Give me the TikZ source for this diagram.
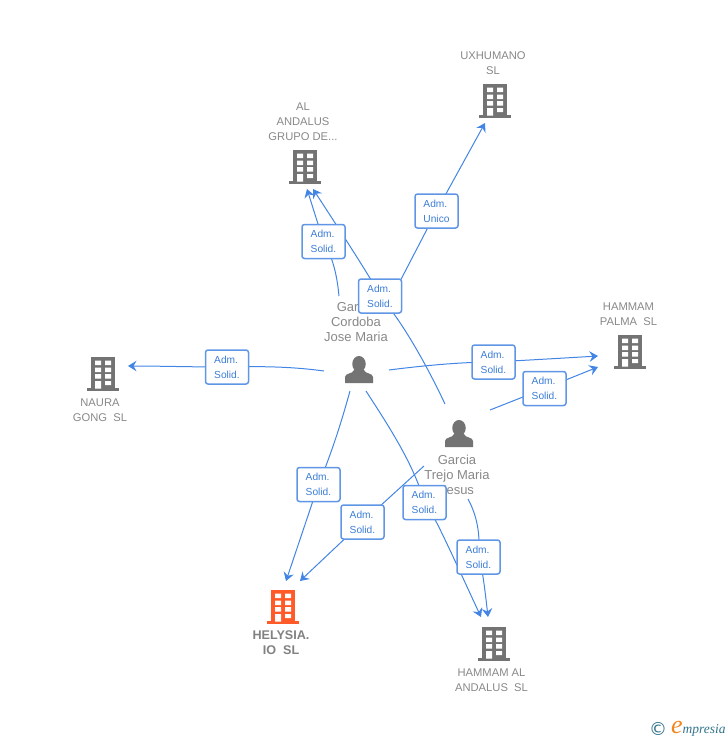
\documentclass[tikz,border=0pt]{standalone}
\usepackage{fontspec}
\setmainfont{Liberation Sans}
\newfontfamily\logoserif{Liberation Serif}
\newfontfamily\logosym{DejaVu Sans}
\usetikzlibrary{arrows.meta,shapes.geometric}
\definecolor{edgeblue}{RGB}{66,133,228}
\definecolor{boxblue}{RGB}{95,150,230}
\definecolor{txtblue}{RGB}{60,125,215}
\definecolor{labgray}{RGB}{136,136,136}
\definecolor{icongray}{RGB}{115,115,115}
\definecolor{iconred}{RGB}{255,90,40}
\definecolor{logoteal}{RGB}{50,115,140}
\definecolor{logoorange}{RGB}{240,135,30}
\tikzset{
  x=1pt,y=-1pt,
  conn/.style={draw=edgeblue,line width=1pt},
  arr/.style={conn,-{Stealth[length=8.5pt,width=10.5pt,inset=3pt]}},
  relbox/.style={draw=boxblue,line width=1.5pt,fill=white,rounded corners=2.5pt,
    minimum width=43pt,minimum height=34pt,inner sep=0pt,align=left,text=txtblue,
    font=\fontsize{10.2}{15}\selectfont},
  comp/.style={text=labgray,align=center,font=\fontsize{11.2}{15}\selectfont,inner sep=0pt},
  compmain/.style={text=icongray!90,align=center,font=\fontsize{12.6}{15}\bfseries\selectfont,inner sep=0pt},
  pers/.style={text=labgray,align=center,font=\fontsize{13}{15}\selectfont,inner sep=0pt},
  bld/.style={minimum width=24pt,minimum height=32pt,inner sep=0pt,fill=#1},
  bld/.default=icongray,
  pers head/.style={ellipse,fill=icongray,inner sep=0pt,minimum width=13.5pt,minimum height=16pt},
  pics/windows/.style={code={
    \fill[#1] (-16,15) rectangle (16,18);
    \fill[white] (-8,-12.5) rectangle (-2,-8)
      (2,-12.5) rectangle (8,-8)
      (-8,-5.5) rectangle (-2,-1)
      (2,-5.5) rectangle (8,-1)
      (-8,1) rectangle (-2,5.5)
      (2,1) rectangle (8,5.5)
      (-8,8) rectangle (-2,15.5)
      (2,8) rectangle (8,12);
  }},
  pics/torso/.style={code={
    \fill[icongray] (-14,11) -- (14,11) -- (14,5) .. controls (14,1) and (6,2) .. (5,-2)
      -- (-5,-2) .. controls (-6,2) and (-14,1) .. (-14,5) -- cycle;
  }},
}
\begin{document}
\begin{tikzpicture}
\useasboundingbox (0,0) rectangle (728,740);
% coordinates: free ends of the connectors
\coordinate (a1s) at (339,296); \coordinate (a1e) at (307,189);
\coordinate (a2s) at (445,404); \coordinate (a2e) at (313,189);
\coordinate (a3s) at (396.5,288); \coordinate (a3e) at (485,123);
\coordinate (a4s) at (324,371); \coordinate (a4e) at (128,366);
\coordinate (a5s) at (389,370); \coordinate (a5e) at (598,356);
\coordinate (a6s) at (490,410); \coordinate (a6e) at (598,367);
\coordinate (a7s) at (350,391); \coordinate (a7e) at (286,581);
\coordinate (a8s) at (424,466); \coordinate (a8e) at (300,581);
\coordinate (a9s) at (366,391); \coordinate (a9e) at (481,617);
\coordinate (a10s) at (468,499); \coordinate (a10e) at (488,617);
% label centres
\coordinate (l1) at (323.5,241.5);
\coordinate (l2) at (380,296);
\coordinate (l3) at (436.5,211);
\coordinate (l4) at (227,367);
\coordinate (l5) at (493.5,362);
\coordinate (l6) at (544.5,388.5);
\coordinate (l7) at (318.5,484.5);
\coordinate (l8) at (362.5,522);
\coordinate (l9) at (424.5,502.5);
\coordinate (l10) at (478.5,557);
% connectors
\path[conn] (a1s) .. controls (337,275) and (333,258) .. (l1);
\path[arr] (l1) -- (a1e);
\path[conn] (a2s) .. controls (430,372) and (405,325) .. (l2);
\path[arr] (l2) .. controls (377,288) and (345,238) .. (a2e);
\path[conn] (a3s) -- (l3);
\path[arr] (l3) -- (a3e);
\path[conn] (a4s) .. controls (295,367) and (265,366) .. (l4);
\path[arr] (l4) .. controls (190,367) and (160,366) .. (a4e);
\path[conn] (a5s) .. controls (420,366) and (460,362) .. (l5);
\path[arr] (l5) .. controls (530,360) and (565,358) .. (a5e);
\path[conn] (a6s) -- (l6);
\path[arr] (l6) -- (a6e);
\path[conn] (a7s) .. controls (342,420) and (332,452) .. (l7);
\path[arr] (l7) -- (a7e);
\path[conn] (a8s) -- (l8);
\path[arr] (l8) -- (a8e);
\path[conn] (a9s) .. controls (390,428) and (414,465) .. (l9);
\path[arr] (l9) .. controls (432,510) and (450,550) .. (a9e);
\path[conn] (a10s) .. controls (475,512) and (481,530) .. (l10);
\path[arr] (l10) .. controls (482,565) and (485,590) .. (a10e);
% buildings
\node[bld] (naura) at (103,373) {}; \pic at (naura) {windows=icongray};
\node[bld] (grupo) at (305,166) {}; \pic at (grupo) {windows=icongray};
\node[bld] (uxh) at (495,100) {}; \pic at (uxh) {windows=icongray};
\node[bld] (palma) at (630,351) {}; \pic at (palma) {windows=icongray};
\node[bld=iconred] (hely) at (283,606) {}; \pic at (hely) {windows=iconred};
\node[bld] (hal) at (494,643) {}; \pic at (hal) {windows=icongray};
% people
\node[pers head] (p1) at (359,364) {}; \pic at (359,372) {torso};
\node[pers head] (p2) at (459,428) {}; \pic at (459,436) {torso};
% texts
\node[comp] (tuxh) at (493,63.5) {UXHUMANO\\SL};
\node[comp] (tgrupo) at (303,121.5) {AL\\ANDALUS\\GRUPO DE...};
\node[comp] (tpalma) at (628.5,314) {HAMMAM\\PALMA\ \ SL};
\node[comp] (tnaura) at (100,410) {NAURA\\GONG\ \ SL};
\node[compmain] (thely) at (281,643) {HELYSIA.\\IO\ \ SL};
\node[comp] (thal) at (491.5,680) {HAMMAM AL\\ANDALUS\ \ SL};
\node[pers] (tp1) at (356,322) {Garcia\\Cordoba\\Jose Maria};
\node[pers] (tp2) at (457,475) {Garcia\\Trejo Maria\\Jesus};
% relation boxes
\node[relbox] (b1) at (l1) {\raisebox{-0.5pt}{Adm.}\\\raisebox{-0.5pt}{Solid.}};
\node[relbox] (b2) at (l2) {\raisebox{-0.5pt}{Adm.}\\\raisebox{-0.5pt}{Solid.}};
\node[relbox] (b3) at (l3) {\raisebox{-0.5pt}{Adm.}\\\raisebox{-0.5pt}{Unico}};
\node[relbox] (b4) at (l4) {\raisebox{-0.5pt}{Adm.}\\\raisebox{-0.5pt}{Solid.}};
\node[relbox] (b5) at (l5) {\raisebox{-0.5pt}{Adm.}\\\raisebox{-0.5pt}{Solid.}};
\node[relbox] (b6) at (l6) {\raisebox{-0.5pt}{Adm.}\\\raisebox{-0.5pt}{Solid.}};
\node[relbox] (b7) at (l7) {\raisebox{-0.5pt}{Adm.}\\\raisebox{-0.5pt}{Solid.}};
\node[relbox] (b8) at (l8) {\raisebox{-0.5pt}{Adm.}\\\raisebox{-0.5pt}{Solid.}};
\node[relbox] (b9) at (l9) {\raisebox{-0.5pt}{Adm.}\\\raisebox{-0.5pt}{Solid.}};
\node[relbox] (b10) at (l10) {\raisebox{-0.5pt}{Adm.}\\\raisebox{-0.5pt}{Solid.}};
% logo
\node[text=logoteal,inner sep=0pt,font=\logosym\fontsize{18}{18}\selectfont] (copyr) at (658,729) {©};
\node[text=logoorange,inner sep=0pt,font=\logoserif\itshape\fontsize{26}{26}\selectfont] (loge) at (677,727) {e};
\node[text=logoteal,inner sep=0pt,anchor=west,font=\logoserif\itshape\fontsize{13.5}{14}\selectfont] (logt) at (682.5,730) {mpresia};
\end{tikzpicture}
\end{document}
